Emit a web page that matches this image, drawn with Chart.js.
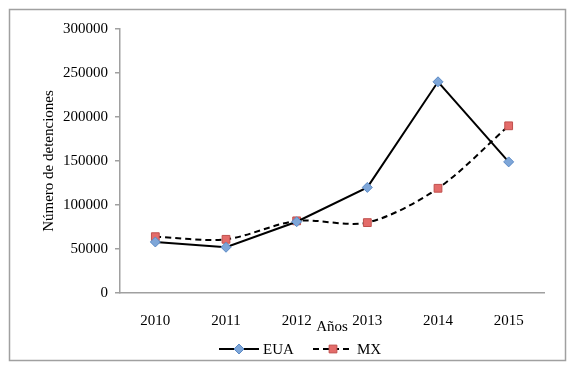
<!DOCTYPE html>
<html>
<head>
<meta charset="utf-8">
<script src="https://cdn.jsdelivr.net/npm/chart.js@4"></script>
<style>
  body { margin: 0; background: #fff; }
  #wrap { width: 576px; height: 373px; position: relative; }
</style>
</head>
<body>
<div id="wrap"><canvas id="chart"></canvas></div>
<script>
"use strict";

var years = ["2010", "2011", "2012", "2013", "2014", "2015"];
var euaValues = [58000, 52000, 81000, 120000, 240000, 149000];
var mxValues = [64000, 61000, 82000, 80000, 119000, 190000];
var yTicks = [0, 50000, 100000, 150000, 200000, 250000, 300000];

var serif = "'Liberation Serif', 'Times New Roman', serif";

// outer frame + legend drawn by hand, Excel-style
var framePlugin = {
  id: "frame",
  afterDraw: function(chart) {
    var ctx = chart.ctx;
    ctx.save();
    ctx.strokeStyle = "#a0a0a0";
    ctx.lineWidth = 1.5;
    ctx.strokeRect(9.5, 9.5, 556, 351);

    var y = 349;
    var items = [
      { x: 219, label: "EUA", ds: chart.data.datasets[0] },
      { x: 313, label: "MX", ds: chart.data.datasets[1] }
    ];
    items.forEach(function(it) {
      var ds = it.ds;
      ctx.strokeStyle = ds.borderColor;
      ctx.lineWidth = ds.borderWidth;
      ctx.setLineDash(ds.borderDash || []);
      ctx.beginPath();
      ctx.moveTo(it.x, y);
      ctx.lineTo(it.x + 40, y);
      ctx.stroke();
      ctx.setLineDash([]);
      ctx.fillStyle = ds.pointBackgroundColor;
      ctx.strokeStyle = ds.pointBorderColor;
      ctx.lineWidth = 1;
      Chart.helpers.drawPoint(ctx, {
        pointStyle: ds.pointStyle,
        radius: ds.pointRadius,
        borderWidth: 1,
        rotation: 0
      }, it.x + 20, y);
      ctx.fillStyle = "#000";
      ctx.font = "15px " + serif;
      ctx.textBaseline = "middle";
      ctx.textAlign = "left";
      ctx.fillText(it.label, it.x + 44, y + 1);
    });
    ctx.restore();
  }
};

new Chart(document.getElementById("chart"), {
  type: "line",
  plugins: [framePlugin],
  data: {
    labels: years,
    datasets: [{
      label: "EUA",
      data: euaValues,
      borderColor: "#000",
      borderWidth: 2,
      tension: 0,
      pointStyle: "rectRot",
      pointRadius: 5,
      pointHoverRadius: 5,
      pointBackgroundColor: "#7ea6d8",
      pointBorderColor: "#5b8ac6",
      pointBorderWidth: 1
    }, {
      label: "MX",
      data: mxValues,
      borderColor: "#000",
      borderWidth: 2,
      borderDash: [6, 4],
      tension: 0.3,
      pointStyle: "rect",
      pointRadius: 5.5,
      pointHoverRadius: 5.5,
      pointBackgroundColor: "#e46c6a",
      pointBorderColor: "#c0504d",
      pointBorderWidth: 1
    }]
  },
  options: {
    responsive: true,
    maintainAspectRatio: false,
    animation: false,
    events: [],
    layout: { padding: { left: 40, top: 29, right: 32, bottom: 37 } },
    plugins: {
      legend: { display: false },
      tooltip: { enabled: false }
    },
    scales: {
      x: {
        offset: true,
        afterFit: function(scale) { scale.height = 43; },
        border: { color: "#a0a0a0", width: 1.5 },
        grid: { display: false, offset: true },
        ticks: { color: "#000", font: { family: serif, size: 15 }, padding: 11, maxRotation: 0 },
        title: { display: true, text: "Años", color: "#000", font: { family: serif, size: 15 }, padding: 0 }
      },
      y: {
        min: 0,
        max: 300000,
        afterFit: function(scale) { scale.width = 80; },
        afterBuildTicks: function(scale) {
          scale.ticks = yTicks.map(function(v) { return { value: v }; });
        },
        border: { color: "#a0a0a0", width: 1.5 },
        grid: { drawOnChartArea: false, drawTicks: true, tickLength: 5, color: "#a0a0a0", lineWidth: 1.5 },
        ticks: {
          color: "#000",
          font: { family: serif, size: 15 },
          padding: 7,
          callback: function(v) { return String(v); }
        },
        title: { display: true, text: "Número de detenciones", color: "#000", font: { family: serif, size: 15 }, padding: 0 }
      }
    }
  }
});
</script>
</body>
</html>
